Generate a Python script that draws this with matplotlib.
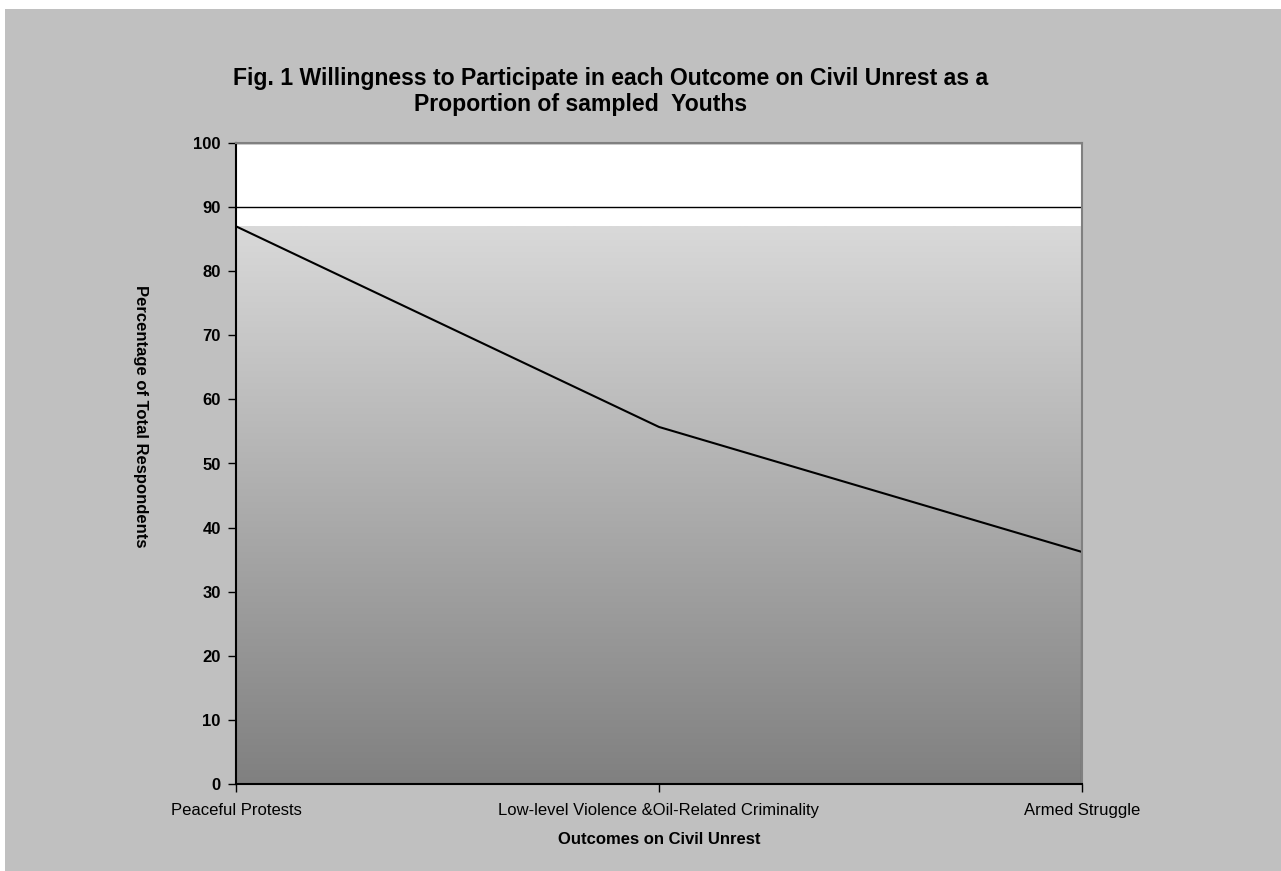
import numpy as np
import matplotlib.pyplot as plt
from matplotlib.colors import LinearSegmentedColormap
from matplotlib.patches import Rectangle

plt.rcParams['font.family'] = ['Liberation Sans', 'DejaVu Sans']

# data
categories = ["Peaceful Protests", "Low-level Violence &Oil-Related Criminality", "Armed Struggle"]
values = [87.0, 55.7, 36.2]
y_ticks = [0, 10, 20, 30, 40, 50, 60, 70, 80, 90, 100]

W, H = 1281, 871
fig = plt.figure(figsize=(W / 100, H / 100), dpi=100, facecolor="white")

# grey chart area (small white margin top/left)
bg = Rectangle((5 / W, 0), 1 - 5 / W, 1 - 9 / H, transform=fig.transFigure,
               facecolor="#c0c0c0", edgecolor="none", zorder=-10)
fig.add_artist(bg)

ax = fig.add_axes([236 / W, 1 - 784 / H, 846 / W, 641 / H])
ax.set_zorder(1)
ax.set_facecolor("white")

x = np.arange(len(categories))

# gradient fill up to the top of the series
cmap = LinearSegmentedColormap.from_list("g", ["#808080", "#d9d9d9"])
grad = np.linspace(0, 1, 256).reshape(-1, 1)
ax.imshow(grad, cmap=cmap, origin="lower", aspect="auto",
          extent=[x[0], x[-1], 0, max(values)], zorder=1.5, interpolation="bilinear")

# outline of the area
ax.plot(list(x) + [x[-1]], values + [0], color="black", lw=1.5, zorder=3,
        solid_joinstyle="miter")

ax.set_xlim(x[0], x[-1])
ax.set_ylim(0, 100)
ax.set_yticks(y_ticks)
ax.set_xticks(x)
ax.set_xticklabels(categories, fontsize=12)
ax.set_yticklabels([str(t) for t in y_ticks], fontsize=12, fontweight="bold")

ax.set_axisbelow(True)
ax.yaxis.grid(True, color="black", lw=1)

ax.tick_params(axis="y", direction="out", length=6, width=1, pad=5, colors="black")
ax.tick_params(axis="x", direction="out", length=6, width=1, pad=8, colors="black")

for s in ["left", "bottom"]:
    ax.spines[s].set_color("black")
    ax.spines[s].set_linewidth(1.5)
for s in ["top", "right"]:
    ax.spines[s].set_color("#808080")
    ax.spines[s].set_linewidth(1.5)
for s in ax.spines.values():
    s.set_zorder(4)

ax.set_xlabel("Outcomes on Civil Unrest", fontsize=12, fontweight="bold", va="center")
ax.xaxis.set_label_coords(0.5, -0.087)
ax.set_ylabel("Percentage of Total Respondents", fontsize=12, fontweight="bold",
              rotation=270, va="center")
ax.yaxis.set_label_coords(-0.113, 0.574)

fig.text(611 / W, 1 - 78 / H,
         "Fig. 1 Willingness to Participate in each Outcome on Civil Unrest as a",
         ha="center", va="center", fontsize=16.6, fontweight="bold")
fig.text(581 / W, 1 - 104 / H, "Proportion of sampled  Youths",
         ha="center", va="center", fontsize=16.6, fontweight="bold")

fig.savefig("out.png", dpi=100, facecolor=fig.get_facecolor())
